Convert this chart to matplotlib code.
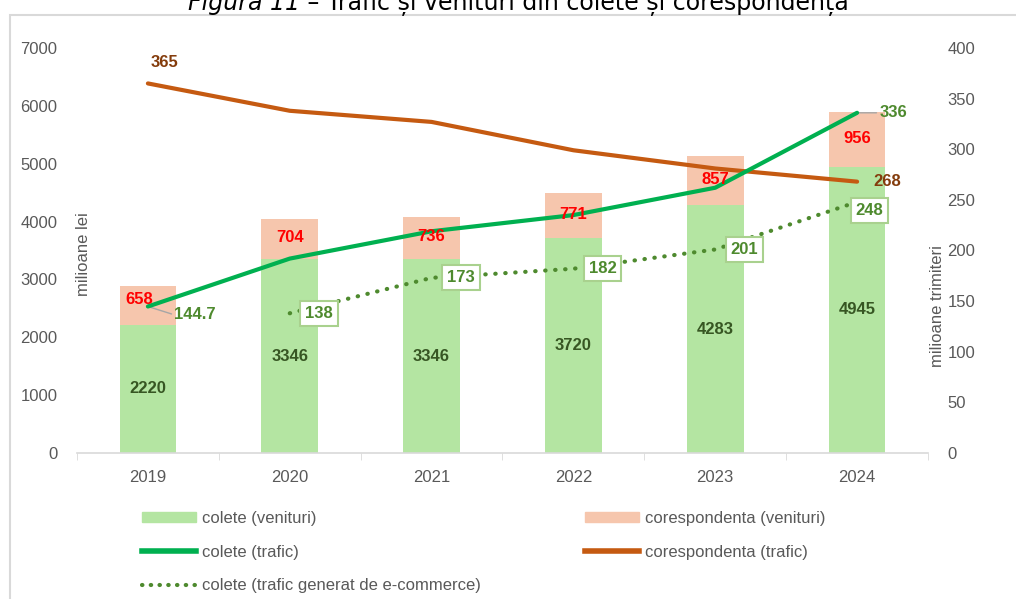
import matplotlib.pyplot as plt
import matplotlib.patches as mpatches
from matplotlib.lines import Line2D
import numpy as np

# data
years = ['2019', '2020', '2021', '2022', '2023', '2024']
colete_venituri = [2220, 3346, 3346, 3720, 4283, 4945]
coresp_venituri = [658, 704, 736, 771, 857, 956]
colete_trafic = [144.7, 192, 219, 235, 262, 336]
coresp_trafic = [365, 338, 327, 299, 281, 268]
ecom_years = ['2020', '2021', '2022', '2023', '2024']
ecom_trafic = [138, 173, 182, 201, 248]

c_green_bar = '#B4E5A2'
c_pink_bar = '#F6C6AD'
c_green_line = '#00B050'
c_orange_line = '#C55A11'
c_dots = '#4E8A2E'
c_grey = '#595959'

plt.rcParams['font.family'] = ['Liberation Sans', 'DejaVu Sans']

fig = plt.figure(figsize=(10.16, 5.99), dpi=100)
W, H = 1016, 599
ax = fig.add_axes([77 / W, 1 - 453 / H, (928 - 77) / W, (453 - 48) / H])
ax2 = ax.twinx()
ax.set_zorder(1)
ax2.set_zorder(2)

x = np.arange(len(years))
xe = np.array([years.index(y) for y in ecom_years])

# stacked bars
ax.bar(x, colete_venituri, width=0.4, color=c_green_bar, zorder=1)
ax.bar(x, coresp_venituri, width=0.4, bottom=colete_venituri, color=c_pink_bar, zorder=1)

# lines
ax2.plot(x, coresp_trafic, color=c_orange_line, lw=3, solid_capstyle='round', zorder=3)
ax2.plot(x, colete_trafic, color=c_green_line, lw=3, solid_capstyle='round', zorder=4)
ax2.plot(xe, ecom_trafic, color=c_dots, lw=3, linestyle=(0, (0.1, 2.3)),
         dash_capstyle='round', zorder=4)

# bar labels (drawn on top of lines)
for i in range(len(years)):
    ax2.text(x[i], colete_venituri[i] / 2, str(colete_venituri[i]), ha='center', va='center',
             fontsize=12, fontweight='bold', color='#375623', zorder=5,
             transform=ax.transData)
    dx = -0.06 if i == 0 else 0
    dy = 100 if i == 0 else 20
    ax2.text(x[i] + dx, colete_venituri[i] + coresp_venituri[i] / 2 + dy, str(coresp_venituri[i]),
             ha='center', va='center', fontsize=12, fontweight='bold', color='#FF0000',
             zorder=5, transform=ax.transData)

# line labels
ax2.annotate('144.7', (x[0], colete_trafic[0]), xytext=(19, -6), textcoords='offset points',
             ha='left', va='center', fontsize=12, fontweight='bold', color=c_dots,
             arrowprops=dict(arrowstyle='-', color='#A6A6A6', lw=1, shrinkA=0, shrinkB=0,
                             relpos=(0, 0.5)))
ax2.annotate('336', (x[5], colete_trafic[5]), xytext=(16, 0), textcoords='offset points',
             ha='left', va='center', fontsize=12, fontweight='bold', color=c_dots,
             arrowprops=dict(arrowstyle='-', color='#A6A6A6', lw=1, shrinkA=0, shrinkB=0,
                             relpos=(0, 0.5)))
ax2.annotate('365', (x[0], coresp_trafic[0]), xytext=(12, 15), textcoords='offset points',
             ha='center', va='center', fontsize=12, fontweight='bold', color='#843C0C')
ax2.annotate('268', (x[5], coresp_trafic[5]), xytext=(12, 0), textcoords='offset points',
             ha='left', va='center', fontsize=12, fontweight='bold', color='#843C0C')

for j in range(len(ecom_years)):
    off = (9, -6) if j == len(ecom_years) - 1 else (21, 0)
    ax2.annotate(str(ecom_trafic[j]), (xe[j], ecom_trafic[j]), xytext=off,
                 textcoords='offset points', ha='center', va='center', fontsize=12,
                 fontweight='bold', color=c_dots, zorder=6,
                 bbox=dict(boxstyle='square,pad=0.3', fc='white', ec='#A9D18E', lw=1.5))

# axes styling
ax.set_xlim(-0.5, len(years) - 0.5)
ax.set_ylim(0, 7000)
ax2.set_ylim(0, 400)
ax.set_yticks(range(0, 7001, 1000))
ax2.set_yticks(range(0, 401, 50))
ax.set_xticks(x)
ax.set_xticklabels(years)
ax.set_xticks(np.arange(-0.5, len(years)), minor=True)
ax.tick_params(axis='x', which='major', length=0, pad=12, labelsize=12, labelcolor=c_grey)
ax.tick_params(axis='x', which='minor', length=5, color='#D9D9D9', direction='out')
ax.tick_params(axis='y', length=0, pad=14, labelsize=12, labelcolor=c_grey)
ax2.tick_params(axis='y', length=0, pad=14, labelsize=12, labelcolor=c_grey)
for a in (ax, ax2):
    for s in ('top', 'left', 'right'):
        a.spines[s].set_visible(False)
ax2.spines['bottom'].set_visible(False)
ax.spines['bottom'].set_color('#D9D9D9')
ax.spines['bottom'].set_linewidth(1.2)
ax.patch.set_visible(False)

fig.text(83 / W, 1 - 254 / H, 'milioane lei', rotation=90, ha='center', va='center',
         fontsize=12, color=c_grey)
fig.text(937 / W, 1 - 306 / H, 'milioane trimiteri', rotation=90, ha='center', va='center',
         fontsize=12, color=c_grey)

# legend
h1 = [mpatches.Patch(color=c_green_bar),
      Line2D([], [], color=c_green_line, lw=4),
      Line2D([], [], color=c_dots, lw=3, linestyle=(0, (0.1, 2.0)), dash_capstyle='round')]
l1 = ['colete (venituri)', 'colete (trafic)', 'colete (trafic generat de e-commerce)']
h2 = [mpatches.Patch(color=c_pink_bar), Line2D([], [], color=c_orange_line, lw=4)]
l2 = ['corespondenta (venituri)', 'corespondenta (trafic)']
leg_kw = dict(frameon=False, handlelength=3.25, handleheight=0.6, handletextpad=0.35,
              labelspacing=1.12, borderaxespad=0, borderpad=0,
              prop=dict(size=12), labelcolor=c_grey)
fig.legend(h1, l1, loc='upper left', bbox_to_anchor=(142 / W, 1 - 511 / H), **leg_kw)
fig.legend(h2, l2, loc='upper left', bbox_to_anchor=(585 / W, 1 - 511 / H), **leg_kw)

# frame around chart area
fig.patches.append(mpatches.Rectangle((10 / W, -0.1), 1.2, 1 - 15 / H + 0.1,
                                      transform=fig.transFigure, fill=False,
                                      ec='#D9D9D9', lw=1.5))

# title (top partially cut off as in the source)
t1 = fig.text(188 / W, 1 - 10 / H, 'Figura 11', ha='left', va='baseline', fontsize=17,
              style='italic', family='DejaVu Sans', color='black')
fig.canvas.draw()
bb = t1.get_window_extent()
fig.text(bb.x1 / W, 1 - 10 / H, ' \u2013 Trafic \u0219i venituri din colete \u0219i coresponden\u021b\u0103',
         ha='left', va='baseline', fontsize=17, family='DejaVu Sans', color='black')

fig.savefig('out.png', dpi=100)
